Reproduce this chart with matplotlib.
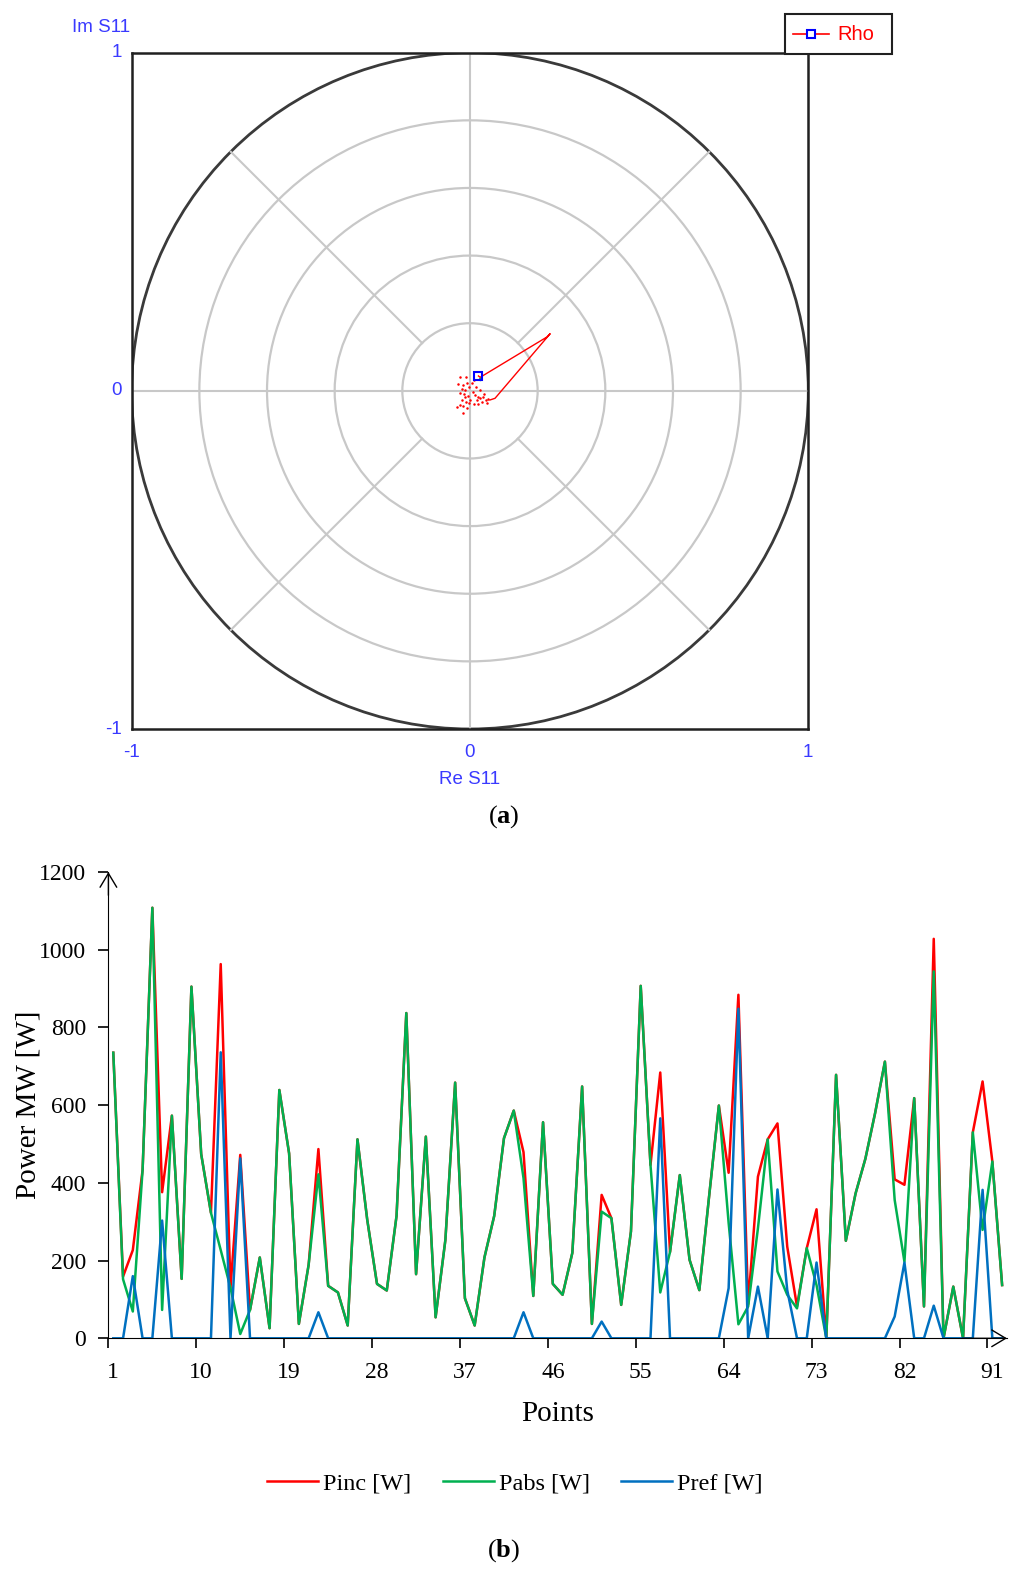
import numpy as np
import matplotlib.pyplot as plt
from matplotlib.patches import Circle, Rectangle
from matplotlib.lines import Line2D

plt.rcParams['font.family'] = ['Liberation Serif', 'DejaVu Serif']
plt.rcParams['mathtext.fontset'] = 'custom'
plt.rcParams['mathtext.rm'] = 'Liberation Serif'
plt.rcParams['mathtext.bf'] = 'Liberation Serif:bold'

# ---- data (a): reflection coefficient trace, Re/Im S11 ----
rho_dots_re = [-0.030, -0.012, -0.034, -0.020, -0.008, -0.025, -0.015, -0.002, -0.030, -0.018,
               -0.005, 0.008, 0.015, 0.025, 0.030, 0.039, 0.047, 0.051, 0.035, 0.020,
               0.000, -0.015, -0.025, -0.030, -0.020, -0.008, -0.022, -0.037, 0.005, 0.012,
               0.018, 0.030, 0.041, 0.054, -0.002, 0.012, 0.025, -0.012]
rho_dots_im = [0.040, 0.040, 0.020, 0.017, 0.022, 0.004, 0.002, 0.010, -0.007, -0.009,
               -0.015, -0.004, -0.012, -0.017, -0.022, -0.019, -0.027, -0.035, -0.032, -0.027,
               -0.027, -0.019, -0.027, -0.042, -0.045, -0.052, -0.065, -0.047, 0.024, 0.032,
               0.012, 0.002, -0.009, -0.025, -0.037, -0.039, -0.039, -0.032]
rho_trace_re = [0.059, 0.074, 0.237, 0.227, 0.030, 0.025]
rho_trace_im = [-0.027, -0.022, 0.169, 0.159, 0.040, 0.044]
rho_last = (0.025, 0.044)
rho_prev = (0.030, 0.034)

# ---- data (b): power per point ----
points = np.arange(1, 93)
pinc = [735, 159, 227, 433, 1108, 376, 573, 153, 905, 474, 323, 963, 130, 472, 73, 208, 26, 639, 476, 37,
        189, 487, 135, 118, 33, 512, 305, 140, 123, 315, 837, 165, 519, 54, 253, 658, 103, 33, 208, 315,
        515, 586, 479, 109, 556, 140, 112, 220, 648, 37, 369, 309, 86, 275, 907, 446, 684, 222, 420, 202,
        124, 365, 599, 426, 884, 88, 416, 512, 553, 236, 82, 232, 332, 0, 678, 251, 373, 462, 580, 712,
        409, 395, 618, 82, 1028, 0, 133, 0, 530, 661, 455, 137]
pabs = [735, 152, 69, 433, 1108, 73, 573, 153, 905, 474, 323, 227, 130, 11, 73, 208, 26, 639, 476, 37,
        189, 422, 135, 118, 33, 512, 305, 140, 123, 315, 837, 165, 519, 54, 253, 658, 103, 33, 208, 315,
        515, 586, 412, 109, 556, 140, 112, 220, 648, 37, 326, 309, 86, 275, 907, 446, 118, 222, 420, 202,
        124, 365, 599, 297, 36, 82, 283, 512, 172, 112, 77, 232, 137, 0, 678, 251, 373, 462, 580, 712,
        356, 197, 618, 82, 944, 0, 133, 0, 530, 279, 455, 137]
pref = [0, 0, 160, 0, 0, 303, 0, 0, 0, 0, 0, 736, 0, 463, 0, 0, 0, 0, 0, 0,
        0, 67, 0, 0, 0, 0, 0, 0, 0, 0, 0, 0, 0, 0, 0, 0, 0, 0, 0, 0,
        0, 0, 67, 0, 0, 0, 0, 0, 0, 0, 43, 0, 0, 0, 0, 0, 566, 0, 0, 0,
        0, 0, 0, 129, 848, 0, 133, 0, 383, 124, 0, 0, 195, 0, 0, 0, 0, 0, 0, 0,
        56, 195, 0, 0, 84, 0, 0, 0, 0, 382, 0, 0]
xtick_labels = [str(v) for v in range(1, 92, 9)]

W, H = 1015, 1573
fig = plt.figure(figsize=(W / 100, H / 100), dpi=100)


def px_box(x0, y0, x1, y1):
    return [x0 / W, 1 - y1 / H, (x1 - x0) / W, (y1 - y0) / H]


# ================= panel (a) =================
axa = fig.add_axes(px_box(131.7, 52.7, 808.3, 729))
axa.set_xlim(-1, 1)
axa.set_ylim(-1, 1)
axa.set_xticks([])
axa.set_yticks([])
for s in axa.spines.values():
    s.set_color('#202020')
    s.set_linewidth(1.8)

grid_c = '#c8c8c8'
for r in [0.2, 0.4, 0.6, 0.8]:
    axa.add_patch(Circle((0, 0), r, fill=False, ec=grid_c, lw=1.6))
axa.add_patch(Circle((0, 0), 1.0, fill=False, ec='#3a3a3a', lw=2.0))
axa.axhline(0, color=grid_c, lw=1.5)
axa.axvline(0, color=grid_c, lw=1.5)
for ang in [45, 135, 225, 315]:
    t = np.deg2rad(ang)
    axa.plot([0.2 * np.cos(t), np.cos(t)], [0.2 * np.sin(t), np.sin(t)], color=grid_c, lw=1.5)

axa.plot(rho_dots_re, rho_dots_im, 'o', color='red', ms=1.8, mew=0)
axa.plot(rho_trace_re, rho_trace_im, color='red', lw=1.0)
axa.plot(*rho_prev, 'o', color='#00b050', ms=2.5, mew=0)
axa.plot(*rho_last, 's', mfc='none', mec='blue', ms=6, mew=1.5)

lab_c = '#3a3aff'
lab_kw = dict(color=lab_c, fontsize=13.5, family=['Liberation Sans', 'DejaVu Sans'])
axa.text(-1.03, 1.0, '1', ha='right', va='center', **lab_kw)
axa.text(-1.03, 0.0, '0', ha='right', va='center', **lab_kw)
axa.text(-1.03, -1.0, '-1', ha='right', va='center', **lab_kw)
axa.text(-1.0, -1.045, '-1', ha='center', va='top', **lab_kw)
axa.text(0.0, -1.045, '0', ha='center', va='top', **lab_kw)
axa.text(1.0, -1.045, '1', ha='center', va='top', **lab_kw)
axa.text(-1.09, 1.05, 'Im S11', ha='center', va='bottom', **lab_kw)
axa.text(0.0, -1.125, 'Re S11', ha='center', va='top', **lab_kw)

# legend box of panel (a)
fig.add_artist(Rectangle((785 / W, 1 - 54 / H), 107 / W, 40 / H, transform=fig.transFigure,
                         fc='white', ec='#202020', lw=1.5, zorder=5))
fig.add_artist(Line2D([793 / W, 829 / W], [1 - 34 / H] * 2, transform=fig.transFigure,
                      color='red', lw=1.2, zorder=6))
fig.add_artist(Line2D([811 / W], [1 - 34 / H], transform=fig.transFigure, marker='s',
                      mfc='white', mec='blue', ms=6, mew=1.5, zorder=7))
fig.text(837 / W, 1 - 34 / H, 'Rho', color='red', fontsize=14.5, va='center', ha='left',
         family=['Liberation Sans', 'DejaVu Sans'], zorder=7)

fig.text(0.496, 1 - 817 / H, r'$\mathrm{(}\mathbf{a}\mathrm{)}$', ha='center', va='center', fontsize=19)

# ================= panel (b) =================
axb = fig.add_axes(px_box(108.4, 872, 1007, 1338.3))
axb.plot(points, pinc, color='#ff0000', lw=1.8, label='Pinc [W]')
axb.plot(points, pabs, color='#00b050', lw=1.8, label='Pabs [W]')
axb.plot(points, pref, color='#0070c0', lw=1.8, label='Pref [W]')
axb.set_xlim(0.5, 92.5)
axb.set_ylim(0, 1200)
axb.spines['top'].set_visible(False)
axb.spines['right'].set_visible(False)
axb.set_yticks(range(0, 1201, 200))
axb.set_xticks(range(1, 92, 9))
axb.set_xticklabels(xtick_labels)
axb.set_xticks(np.arange(0.5, 91, 9), minor=True)
axb.tick_params(axis='x', which='major', length=0, pad=17, labelsize=17)
axb.tick_params(axis='x', which='minor', length=7, width=1.2, direction='out')
axb.tick_params(axis='y', length=7, width=1.2, pad=9, labelsize=17)
axb.set_xlabel('Points', fontsize=21, va='center')
axb.set_ylabel('Power MW [W]', fontsize=21, va='center')
axb.xaxis.set_label_coords(0.5, (1338.3 - 1414) / 466.3)
axb.yaxis.set_label_coords((29 - 108.4) / 898.6, 0.5)

arrow = dict(arrowstyle='->,head_length=0.5,head_width=0.3', color='black', lw=1.0, mutation_scale=20,
             shrinkA=0, shrinkB=0)
axb.annotate('', xy=(1.0, 0), xytext=(0.95, 0), xycoords='axes fraction', arrowprops=arrow)
axb.annotate('', xy=(0, 1.0), xytext=(0, 0.95), xycoords='axes fraction', arrowprops=arrow)

handles, labels = axb.get_legend_handles_labels()
fig.legend(handles, labels, loc='center', bbox_to_anchor=(515 / W, 1 - 1483 / H), ncol=3,
           frameon=False, fontsize=17.5, handlelength=2.1, handletextpad=0.2, columnspacing=1.3)

fig.text(0.496, 1 - 1551 / H, r'$\mathrm{(}\mathbf{b}\mathrm{)}$', ha='center', va='center', fontsize=19)

fig.savefig('out.png', dpi=100)
